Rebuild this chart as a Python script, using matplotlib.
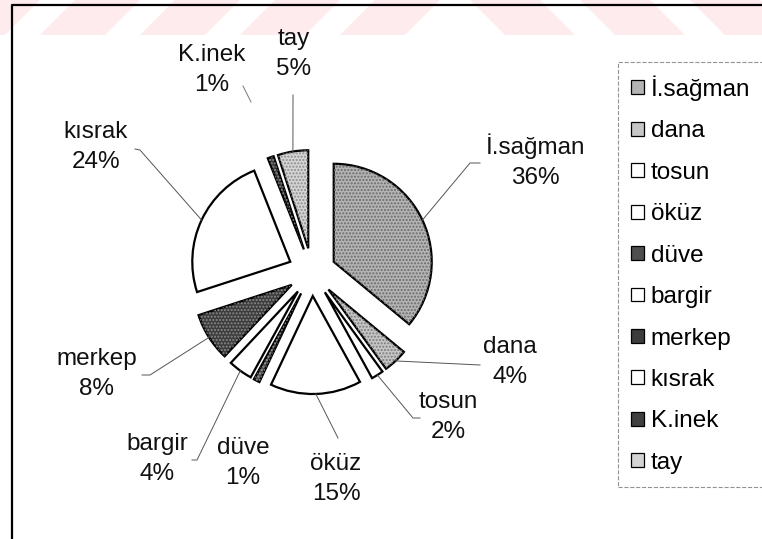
import numpy as np
import matplotlib
matplotlib.use("Agg")
import matplotlib.pyplot as plt
from matplotlib.patches import Polygon, Wedge

plt.rcParams['font.family'] = ['Liberation Sans', 'DejaVu Sans']

# Share of each animal type (%)
categories = ['İ.sağman', 'dana', 'tosun', 'öküz', 'düve',
              'bargir', 'merkep', 'kısrak', 'K.inek', 'tay']
shares = [36, 4, 2, 15, 1, 4, 8, 24, 1, 5]

# Fill of each slice, grey levels plus a dotted texture for the shaded ones
fills = ['#b4b4b4', '#c6c6c6', 'white', 'white', '#4e4e4e',
         'white', '#3c3c3c', 'white', '#404040', '#d4d4d4']
dots = ['#6a6a6a', '#7a7a7a', None, None, '#9a9a9a',
        None, '#8a8a8a', None, '#8a8a8a', '#8c8c8c']

W, H = 762, 539
fig = plt.figure(figsize=(W / 100, H / 100), dpi=100)
ax = fig.add_axes([0, 0, 1, 1])


def px(x, y):
    # pixel position (origin top-left) -> data position
    return x, H - y


# explode is in data units here (radius 98)
wedges, _ = ax.pie(shares, explode=[24] * len(shares), startangle=90,
                   counterclock=False, radius=98, center=px(312, 272),
                   colors=fills,
                   wedgeprops=dict(edgecolor='black', linewidth=1.6))

# dotted texture on top of the grey slices
for w, dc in zip(wedges, dots):
    if dc is None:
        continue
    ax.add_patch(Wedge(w.center, w.r, w.theta1, w.theta2, fill=False,
                       edgecolor=dc, linewidth=0, hatch='.....', zorder=w.zorder))

# label positions (pixels) and leader line ends
label_pos = [(535, 161), (510, 362), (448, 417), (336, 479), (243, 463),
             (157, 459), (97, 374), (96, 147), (212, 70), (294, 54)]
leader_end = [((470, 163), (480, 163)), ((480, 365), None), ((413, 418), (420, 418)),
              ((338, 438), None), None, ((197, 460), (192, 460)),
              ((150, 375), (142, 375)), ((140, 150), (135, 149)), None, ((293, 95), None)]

for w, cat, val, pos, le in zip(wedges, categories, shares, label_pos, leader_end):
    ax.text(*px(*pos), f"{cat}\n{val}%", ha='center', va='center',
            fontsize=17.5, linespacing=1.45, color='#111111')
    if le is None:
        continue
    mid = np.deg2rad((w.theta1 + w.theta2) / 2)
    sx = w.center[0] + w.r * np.cos(mid)
    sy = w.center[1] + w.r * np.sin(mid)
    ex, ey = px(*le[0])
    xs, ys = [sx, ex], [sy, ey]
    if le[1] is not None:
        tx, ty = px(*le[1])
        xs.append(tx)
        ys.append(ty)
    ax.plot(xs, ys, color='#555555', linewidth=0.7, zorder=1)

# short leader near K.inek
ax.plot(*zip(px(251, 102), px(243, 86)), color='#777777', linewidth=0.7)

leg = ax.legend(wedges, categories, loc='upper left',
                bbox_to_anchor=(618 / W, 1 - 62 / H), bbox_transform=fig.transFigure,
                borderaxespad=0, fontsize=17.5, handlelength=0.5, handleheight=0.5,
                handletextpad=0.3, labelspacing=0.8, borderpad=0.55,
                fancybox=False, frameon=True)
frame = leg.get_frame()
frame.set_edgecolor('#777777')
frame.set_linestyle('--')
frame.set_linewidth(0.8)
for h in leg.legend_handles:
    h.set_linewidth(0.9)

# outer chart frame (left and top edges)
ax.plot(*zip(px(12, H + 5), px(12, 5), px(W + 5, 5)), color='black', linewidth=1.6,
        clip_on=False)

# faint pink band across the top
for x0 in range(-60, 380, 100):
    ax.add_patch(Polygon([px(x0, 35), px(x0 + 65, 35), px(x0 + 100, 0), px(x0 + 35, 0)],
                         closed=True, facecolor='#fdebee', edgecolor='none', zorder=0))
for x0 in range(470, 800, 110):
    ax.add_patch(Polygon([px(x0, 0), px(x0 + 70, 0), px(x0 + 105, 35), px(x0 + 35, 35)],
                         closed=True, facecolor='#fdebee', edgecolor='none', zorder=0))

ax.set_xlim(0, W)
ax.set_ylim(0, H)
ax.set_aspect('auto')
ax.axis('off')

fig.savefig('out.png', dpi=100, facecolor='white')
